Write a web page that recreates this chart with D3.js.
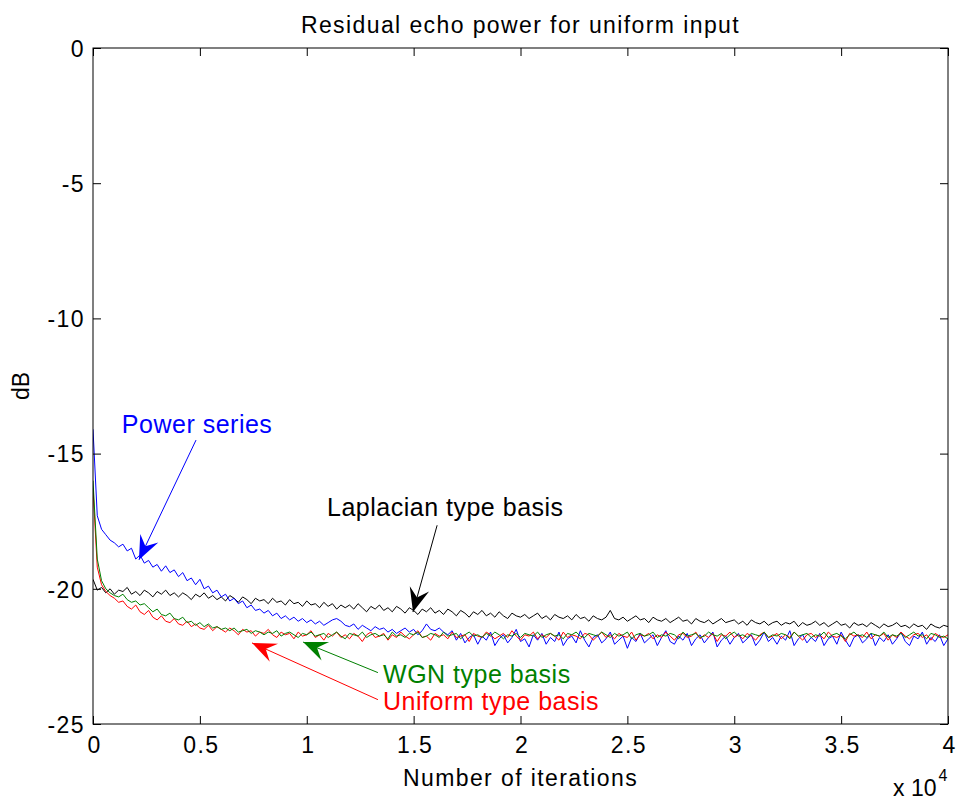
<!DOCTYPE html>
<html>
<head>
<meta charset="utf-8">
<script src="https://cdn.jsdelivr.net/npm/d3@7"></script>
<style>
  body { margin: 0; background: #fff; }
  text { font-family: "Liberation Sans", Arial, Helvetica, sans-serif; }
</style>
</head>
<body>
<svg id="chart" width="960" height="800"></svg>
<script>
// iterations between samples
const step = 200;

const uniformBasis = [
  -16.30, -19.20, -19.85, -20.10, -20.25, -20.35, -20.50, -20.45, -20.65, -20.75,
  -20.60, -20.85, -20.95, -20.80, -21.05, -21.15, -21.00, -21.20, -21.25, -21.10,
  -21.30, -21.35, -21.20, -21.40, -21.30, -21.45, -21.50, -21.35, -21.55, -21.40,
  -21.50, -21.60, -21.45, -21.55, -21.70, -21.50, -21.60, -21.55, -21.75, -21.60,
  -21.65, -21.50, -21.70, -21.80, -21.60, -21.70, -21.65, -21.85, -21.60, -21.75,
  -21.70, -21.55, -21.80, -21.70, -21.90, -21.65, -21.75, -21.60, -21.80, -21.70,
  -21.85, -21.65, -21.75, -21.95, -21.70, -21.60, -21.80, -21.75, -21.65, -21.90,
  -21.70, -21.80, -21.60, -21.75, -21.85, -21.70, -21.55, -21.80, -21.75, -21.90,
  -21.65, -21.75, -21.70, -21.85, -21.60, -21.80, -21.75, -21.70, -21.95, -21.65,
  -21.75, -21.80, -21.60, -21.70, -21.85, -21.75, -21.65, -21.80, -21.55, -21.75,
  -21.90, -21.70, -21.75, -21.60, -21.85, -21.70, -21.80, -21.65, -21.75, -21.90,
  -21.60, -21.80, -21.70, -21.75, -21.85, -21.65, -21.70, -21.90, -21.75, -21.60,
  -21.80, -21.70, -21.85, -21.65, -21.75, -21.80, -21.60, -21.90, -21.70, -21.75,
  -21.65, -21.85, -21.70, -21.80, -21.60, -21.75, -21.90, -21.70, -21.65, -21.80,
  -21.75, -21.60, -21.85, -21.70, -21.80, -21.65, -21.95, -21.70, -21.75, -21.60,
  -21.80, -21.70, -21.85, -21.65, -21.75, -21.90, -21.70, -21.60, -21.80, -21.75,
  -21.65, -21.85, -21.70, -21.80, -21.60, -21.75, -21.90, -21.70, -21.65, -21.80,
  -21.70, -21.85, -21.60, -21.75, -21.80, -21.70, -21.95, -21.65, -21.75, -21.70,
  -21.80, -21.60, -21.85, -21.70, -21.75, -21.65, -21.90, -21.70, -21.80, -21.60,
  -21.75, -21.85, -21.70, -21.65, -21.80, -21.70, -21.90, -21.65, -21.75, -21.80, -21.70
];

const wgnBasis = [
  -16.00, -18.90, -19.70, -20.00, -20.15, -20.25, -20.30, -20.20, -20.40, -20.50,
  -20.45, -20.60, -20.55, -20.70, -20.85, -20.75, -20.95, -21.00, -20.90, -21.10,
  -21.15, -21.05, -21.25, -21.20, -21.35, -21.25, -21.40, -21.30, -21.45, -21.40,
  -21.50, -21.45, -21.55, -21.45, -21.60, -21.55, -21.50, -21.65, -21.55, -21.60,
  -21.70, -21.60, -21.65, -21.55, -21.75, -21.65, -21.60, -21.70, -21.80, -21.65,
  -21.70, -21.60, -21.75, -21.70, -21.65, -21.80, -21.70, -21.60, -21.75, -21.85,
  -21.65, -21.70, -21.75, -21.60, -21.80, -21.70, -21.65, -21.75, -21.70, -21.85,
  -21.60, -21.75, -21.70, -21.80, -21.65, -21.70, -21.60, -21.80, -21.75, -21.65,
  -21.70, -21.80, -21.60, -21.75, -21.70, -21.65, -21.85, -21.70, -21.60, -21.75,
  -21.70, -21.80, -21.65, -21.75, -21.60, -21.70, -21.85, -21.70, -21.75, -21.65,
  -21.80, -21.65, -21.70, -21.75, -21.60, -21.80, -21.70, -21.65, -21.75, -21.70,
  -21.85, -21.65, -21.70, -21.60, -21.75, -21.80, -21.65, -21.70, -21.75, -21.60,
  -21.70, -21.80, -21.65, -21.75, -21.70, -21.60, -21.85, -21.70, -21.65, -21.75,
  -21.70, -21.60, -21.80, -21.70, -21.75, -21.65, -21.70, -21.85, -21.60, -21.75,
  -21.70, -21.65, -21.80, -21.75, -21.60, -21.70, -21.75, -21.65, -21.85, -21.70,
  -21.60, -21.75, -21.70, -21.80, -21.65, -21.70, -21.75, -21.60, -21.80, -21.70,
  -21.75, -21.65, -21.70, -21.85, -21.60, -21.75, -21.70, -21.65, -21.80, -21.70,
  -21.75, -21.60, -21.80, -21.70, -21.65, -21.75, -21.85, -21.70, -21.60, -21.75,
  -21.70, -21.80, -21.65, -21.70, -21.75, -21.60, -21.80, -21.70, -21.75, -21.65,
  -21.80, -21.70, -21.60, -21.75, -21.70, -21.85, -21.65, -21.70, -21.80, -21.75, -21.85
];

const powerSeries = [
  -14.10, -17.30, -17.80, -18.00, -18.20, -18.30, -18.45, -18.35, -18.60, -18.50,
  -18.90, -18.75, -19.05, -18.95, -19.20, -19.10, -19.35, -19.15, -19.40, -19.30,
  -19.55, -19.40, -19.70, -19.60, -19.85, -19.65, -20.00, -19.90, -20.15, -20.05,
  -20.30, -20.20, -20.45, -20.35, -20.55, -20.45, -20.70, -20.60, -20.80, -20.75,
  -20.90, -20.80, -21.00, -20.90, -21.10, -21.00, -21.15, -21.05, -21.20, -21.10,
  -21.25, -21.15, -21.30, -21.20, -21.35, -21.25, -21.15, -21.10, -21.20, -21.35,
  -21.40, -21.30, -21.50, -21.35, -21.45, -21.55, -21.40, -21.50, -21.45, -21.60,
  -21.50, -21.65, -21.55, -21.45, -21.60, -21.50, -21.70, -21.55, -21.30, -21.50,
  -21.55, -21.45, -21.60, -21.70, -21.55, -21.90, -21.65, -22.00, -21.80, -21.70,
  -22.05, -21.75, -21.90, -21.60, -22.10, -21.85, -21.70, -22.00, -21.80, -21.50,
  -21.95, -21.85, -22.15, -21.70, -21.90, -21.65, -22.05, -21.80, -21.95, -21.60,
  -22.10, -21.85, -21.75, -22.00, -21.55, -21.90, -22.15, -21.80, -21.70, -22.00,
  -21.85, -21.60, -22.05, -21.90, -21.75, -22.20, -21.80, -21.95, -21.65, -22.00,
  -21.85, -21.70, -22.10, -21.80, -21.55, -21.95, -22.05, -21.75, -21.90, -21.65,
  -22.10, -21.85, -21.70, -22.00, -21.80, -21.60, -22.15, -21.90, -21.75, -22.05,
  -21.80, -21.65, -22.00, -21.85, -21.70, -22.10, -21.90, -21.60, -21.95, -21.80,
  -22.05, -21.75, -21.90, -21.55, -22.10, -21.85, -21.70, -22.00, -21.80, -21.95,
  -21.65, -22.10, -21.85, -21.75, -22.05, -21.60, -21.90, -22.15, -21.80, -21.70,
  -22.00, -21.85, -21.65, -22.10, -21.80, -21.95, -21.70, -22.05, -21.85, -21.60,
  -21.95, -22.10, -21.75, -21.85, -21.60, -22.05, -21.80, -21.95, -21.70, -22.10, -21.85
];

const laplacianBasis = [
  -19.65, -20.05, -19.95, -20.15, -20.00, -20.20, -20.05, -20.10, -19.95, -20.20,
  -20.10, -20.25, -20.05, -20.15, -20.30, -20.10, -20.20, -20.05, -20.25, -20.15,
  -20.30, -20.15, -20.25, -20.40, -20.20, -20.30, -20.15, -20.35, -20.25, -20.40,
  -20.30, -20.45, -20.25, -20.35, -20.50, -20.30, -20.40, -20.55, -20.35, -20.45,
  -20.40, -20.55, -20.35, -20.50, -20.45, -20.60, -20.40, -20.55, -20.50, -20.65,
  -20.45, -20.60, -20.55, -20.70, -20.50, -20.65, -20.55, -20.75, -20.60, -20.70,
  -20.60, -20.75, -20.55, -20.70, -20.85, -20.65, -20.75, -20.60, -20.80, -20.70,
  -20.85, -20.65, -20.75, -20.90, -20.70, -20.80, -20.95, -20.75, -20.85, -20.70,
  -20.90, -20.80, -20.95, -20.75, -20.85, -21.00, -20.80, -20.90, -21.05, -20.85,
  -20.95, -20.80, -21.00, -20.90, -21.05, -20.85, -21.00, -21.10, -20.90, -21.00,
  -21.05, -20.95, -21.10, -21.00, -20.90, -21.10, -21.00, -21.15, -20.95, -21.05,
  -21.10, -21.00, -21.15, -20.95, -21.10, -21.05, -21.20, -21.00, -21.10, -21.15,
  -21.05, -20.80, -21.10, -21.15, -21.05, -21.20, -21.10, -21.00, -21.15, -21.10,
  -21.25, -21.05, -21.15, -21.20, -21.10, -21.25, -21.15, -21.05, -21.20, -21.15,
  -21.30, -21.10, -21.20, -21.25, -21.15, -21.30, -21.20, -21.10, -21.25, -21.20,
  -21.15, -21.30, -21.20, -21.35, -21.15, -21.25, -21.30, -21.20, -21.35, -21.25,
  -21.20, -21.35, -21.25, -21.30, -21.20, -21.40, -21.25, -21.35, -21.30, -21.20,
  -21.35, -21.25, -21.40, -21.30, -21.20, -21.35, -21.30, -21.45, -21.25, -21.35,
  -21.30, -21.40, -21.25, -21.35, -21.45, -21.30, -21.40, -21.35, -21.25, -21.40,
  -21.35, -21.45, -21.30, -21.40, -21.35, -21.50, -21.30, -21.40, -21.45, -21.35, -21.40
];

// drawing order (later drawn on top)
const series = [
  { name: 'Laplacian type basis', color: '#000000', values: laplacianBasis },
  { name: 'Power series', color: '#0000ff', values: powerSeries },
  { name: 'Uniform type basis', color: '#ff0000', values: uniformBasis },
  { name: 'WGN type basis', color: '#008000', values: wgnBasis }
];

const xTicks = [0, 5000, 10000, 15000, 20000, 25000, 30000, 35000, 40000];
const xTickLabels = ['0', '0.5', '1', '1.5', '2', '2.5', '3', '3.5', '4'];
const yTicks = [0, -5, -10, -15, -20, -25];
const yTickLabels = ['0', '-5', '-10', '-15', '-20', '-25'];

// annotations in data units: label position and arrow from/to
const annotations = [
  { text: 'Power series', color: '#0000ff', tx: 1350, ty: -14.25, x1: 4820, y1: -14.5, x2: 2150, y2: -18.93 },
  { text: 'Laplacian type basis', color: '#000000', tx: 10950, ty: -17.3, x1: 16100, y1: -17.65, x2: 14970, y2: -20.86 },
  { text: 'WGN type basis', color: '#008000', tx: 13570, ty: -23.48, x1: 13330, y1: -23.1, x2: 9830, y2: -21.97 },
  { text: 'Uniform type basis', color: '#ff0000', tx: 13570, ty: -24.48, x1: 13330, y1: -24.1, x2: 7440, y2: -22.0 }
];

const margin = { top: 48, right: 12, bottom: 76, left: 93 };
const W = 960, H = 800;
const width = W - margin.left - margin.right;
const height = H - margin.top - margin.bottom;

const svg = d3.select('#chart');
const g = svg.append('g').attr('transform', `translate(${margin.left},${margin.top})`);

const x = d3.scaleLinear().domain([0, 40000]).range([0, width]);
const y = d3.scaleLinear().domain([-25, 0]).range([height, 0]);

// lines, clipped to the axes box
svg.append('defs').append('clipPath').attr('id', 'plotclip')
  .append('rect').attr('width', width).attr('height', height);

const line = d3.line()
  .x((d, i) => x(i * step))
  .y(d => y(d));

g.append('g').attr('clip-path', 'url(#plotclip)')
  .selectAll('.series')
  .data(series)
  .join('path')
  .attr('class', 'series')
  .attr('fill', 'none')
  .attr('stroke', d => d.color)
  .attr('stroke-width', 1)
  .attr('stroke-linejoin', 'round')
  .attr('d', d => line(d.values));

// axes with ticks pointing inwards, box on all four sides
const tickLen = 8;
const fontSize = 23;
const spacing = '1.4px';

g.append('g')
  .attr('transform', `translate(0,${height})`)
  .call(d3.axisBottom(x).tickValues(xTicks).tickSizeInner(-tickLen).tickSizeOuter(0)
    .tickFormat((d, i) => xTickLabels[i]))
  .call(a => a.selectAll('text').attr('dy', 0).attr('y', 29).attr('font-size', fontSize)
    .attr('letter-spacing', spacing).attr('dx', 1)
    .attr('font-family', '"Liberation Sans", Arial, sans-serif'));

g.append('g')
  .call(d3.axisTop(x).tickValues(xTicks).tickSizeInner(-tickLen).tickSizeOuter(0).tickFormat(''));

g.append('g')
  .call(d3.axisLeft(y).tickValues(yTicks).tickSizeInner(-tickLen).tickSizeOuter(0)
    .tickFormat((d, i) => yTickLabels[i]))
  .call(a => a.selectAll('text').attr('x', -8).attr('dy', '0.36em').attr('font-size', fontSize)
    .attr('letter-spacing', spacing)
    .attr('font-family', '"Liberation Sans", Arial, sans-serif'));

g.append('g')
  .attr('transform', `translate(${width},0)`)
  .call(d3.axisRight(y).tickValues(yTicks).tickSizeInner(-tickLen).tickSizeOuter(0).tickFormat(''));

g.selectAll('.domain').remove();
g.selectAll('.tick line').attr('stroke', '#000');

g.append('rect')
  .attr('width', width).attr('height', height)
  .attr('fill', 'none').attr('stroke', '#000').attr('stroke-width', 1);

// title and axis labels
svg.append('text')
  .attr('x', margin.left + width / 2).attr('y', 33)
  .attr('text-anchor', 'middle').attr('font-size', fontSize)
  .attr('letter-spacing', spacing)
  .text('Residual echo power for uniform input');

svg.append('text')
  .attr('x', margin.left + width / 2).attr('y', 786)
  .attr('text-anchor', 'middle').attr('font-size', fontSize)
  .attr('letter-spacing', spacing)
  .text('Number of iterations');

svg.append('text')
  .attr('transform', `translate(29,${margin.top + height / 2}) rotate(-90)`)
  .attr('text-anchor', 'middle').attr('font-size', fontSize)
  .text('dB');

const mult = svg.append('text')
  .attr('x', 893).attr('y', 796)
  .attr('font-size', fontSize);
mult.append('tspan').text('x 10');
mult.append('tspan').attr('dy', -15).attr('dx', 2).attr('font-size', 16).text('4');

// annotation arrows
function arrowHead(x1, y1, x2, y2) {
  const a = Math.atan2(y2 - y1, x2 - x1);
  const L = 24, w = 10, back = 15;
  const pt = (d, s) => [x2 - d * Math.cos(a) + s * Math.sin(a), y2 - d * Math.sin(a) - s * Math.cos(a)];
  const p1 = pt(L, w), p2 = pt(back, 0), p3 = pt(L, -w);
  return `M${x2},${y2}L${p1}L${p2}L${p3}Z`;
}

const ann = g.selectAll('.annotation')
  .data(annotations)
  .join('g')
  .attr('class', 'annotation');

ann.append('line')
  .attr('x1', d => x(d.x1)).attr('y1', d => y(d.y1))
  .attr('x2', d => x(d.x2)).attr('y2', d => y(d.y2))
  .attr('stroke', d => d.color).attr('stroke-width', 1);

ann.append('path')
  .attr('d', d => arrowHead(x(d.x1), y(d.y1), x(d.x2), y(d.y2)))
  .attr('fill', d => d.color);

ann.append('text')
  .attr('x', d => x(d.tx)).attr('y', d => y(d.ty))
  .attr('fill', d => d.color)
  .attr('font-size', 25)
  .attr('letter-spacing', '0.5px')
  .text(d => d.text);
</script>
</body>
</html>
